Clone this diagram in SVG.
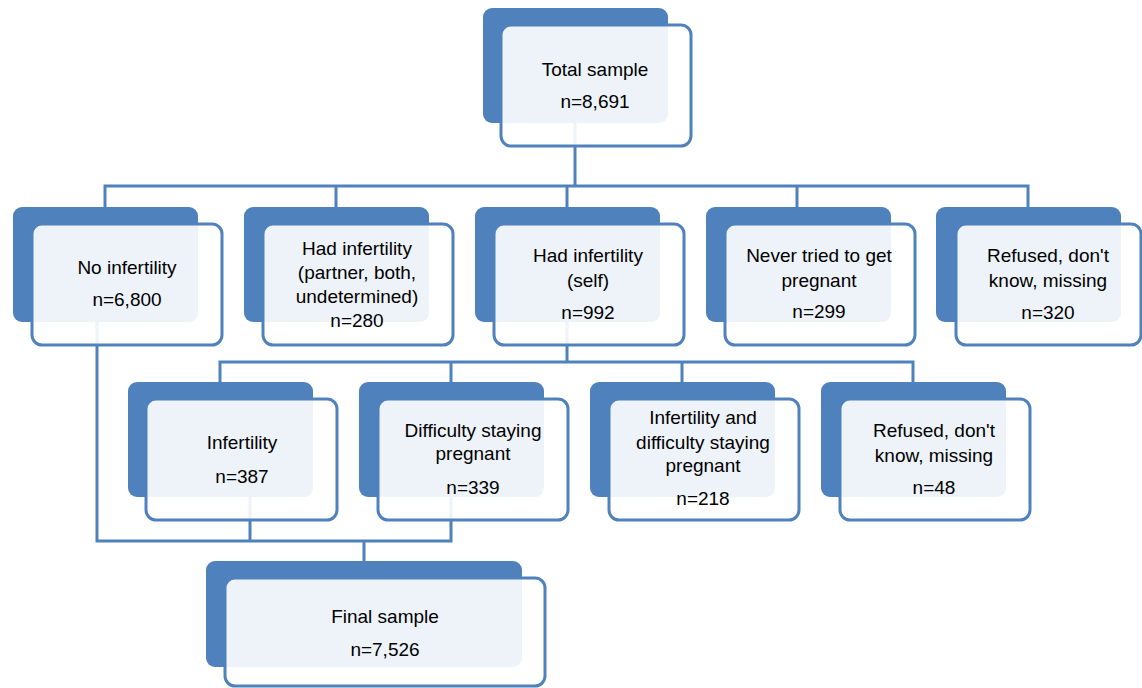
<svg xmlns="http://www.w3.org/2000/svg" width="1142" height="688" viewBox="0 0 1142 688">
<style>
.bk{fill:#4f81bd;}
.fr{fill:#ffffff;fill-opacity:0.9;stroke:#4f81bd;stroke-width:3;}
.cn{fill:none;stroke:#4f81bd;stroke-width:3;}
text{font-family:"Liberation Sans",Arial,sans-serif;font-size:19px;fill:#000;text-anchor:middle;}
</style>
<rect width="1142" height="688" fill="#ffffff"/>
<g id="connectors">
<path class="cn" d="M575,120 V186"/>
<path class="cn" d="M105,210 V186 H1028 V210"/>
<path class="cn" d="M336,186 V210 M567,186 V210 M797,186 V210"/>
<path class="cn" d="M567,320 V362"/>
<path class="cn" d="M220,385 V362 H913 V385"/>
<path class="cn" d="M451,362 V385 M682,362 V385"/>
<path class="cn" d="M97,322 V541 H451 V497"/>
<path class="cn" d="M250,497 V541"/>
<path class="cn" d="M364,541 V563"/>
</g>
<g id="total">
<rect class="bk" x="483" y="8" width="185" height="115" rx="9"/>
<rect class="fr" x="501" y="25" width="190" height="121" rx="10"/>
<text x="595" y="76">Total sample</text>
<text x="595" y="108">n=8,691</text>
</g>
<g id="no-infertility">
<rect class="bk" x="13" y="207" width="185" height="115" rx="9"/>
<rect class="fr" x="32" y="224" width="190" height="121" rx="10"/>
<text x="127" y="274">No infertility</text>
<text x="127" y="306">n=6,800</text>
</g>
<g id="had-infertility-partner">
<rect class="bk" x="244" y="207" width="185" height="115" rx="9"/>
<rect class="fr" x="263" y="224" width="190" height="121" rx="10"/>
<text x="357" y="255">Had infertility</text>
<text x="357" y="279">(partner, both,</text>
<text x="357" y="303">undetermined)</text>
<text x="357" y="327">n=280</text>
</g>
<g id="had-infertility-self">
<rect class="bk" x="475" y="207" width="185" height="115" rx="9"/>
<rect class="fr" x="494" y="224" width="190" height="121" rx="10"/>
<text x="588" y="262">Had infertility</text>
<text x="588" y="287">(self)</text>
<text x="588" y="319">n=992</text>
</g>
<g id="never-tried">
<rect class="bk" x="706" y="207" width="185" height="115" rx="9"/>
<rect class="fr" x="725" y="224" width="190" height="121" rx="10"/>
<text x="819" y="262">Never tried to get</text>
<text x="819" y="287">pregnant</text>
<text x="819" y="318">n=299</text>
</g>
<g id="refused-1">
<rect class="bk" x="936" y="207" width="185" height="115" rx="9"/>
<rect class="fr" x="956" y="224" width="185" height="121" rx="10"/>
<text x="1048" y="262">Refused, don't</text>
<text x="1048" y="287">know, missing</text>
<text x="1048" y="319">n=320</text>
</g>
<g id="infertility">
<rect class="bk" x="128" y="382" width="185" height="115" rx="9"/>
<rect class="fr" x="146" y="399" width="191" height="121" rx="10"/>
<text x="242" y="449">Infertility</text>
<text x="242" y="483">n=387</text>
</g>
<g id="difficulty">
<rect class="bk" x="359" y="382" width="185" height="115" rx="9"/>
<rect class="fr" x="378" y="399" width="190" height="121" rx="10"/>
<text x="473" y="437">Difficulty staying</text>
<text x="473" y="460">pregnant</text>
<text x="473" y="494">n=339</text>
</g>
<g id="infertility-and-difficulty">
<rect class="bk" x="590" y="382" width="185" height="115" rx="9"/>
<rect class="fr" x="609" y="399" width="190" height="121" rx="10"/>
<text x="703" y="424">Infertility and</text>
<text x="703" y="449">difficulty staying</text>
<text x="703" y="472">pregnant</text>
<text x="703" y="505">n=218</text>
</g>
<g id="refused-2">
<rect class="bk" x="821" y="382" width="185" height="115" rx="9"/>
<rect class="fr" x="840" y="399" width="190" height="121" rx="10"/>
<text x="934" y="437">Refused, don't</text>
<text x="934" y="462">know, missing</text>
<text x="934" y="494">n=48</text>
</g>
<g id="final">
<rect class="bk" x="206" y="561" width="316" height="106" rx="9"/>
<rect class="fr" x="225" y="578" width="320" height="108" rx="10"/>
<text x="385" y="623">Final sample</text>
<text x="385" y="656">n=7,526</text>
</g>
</svg>
